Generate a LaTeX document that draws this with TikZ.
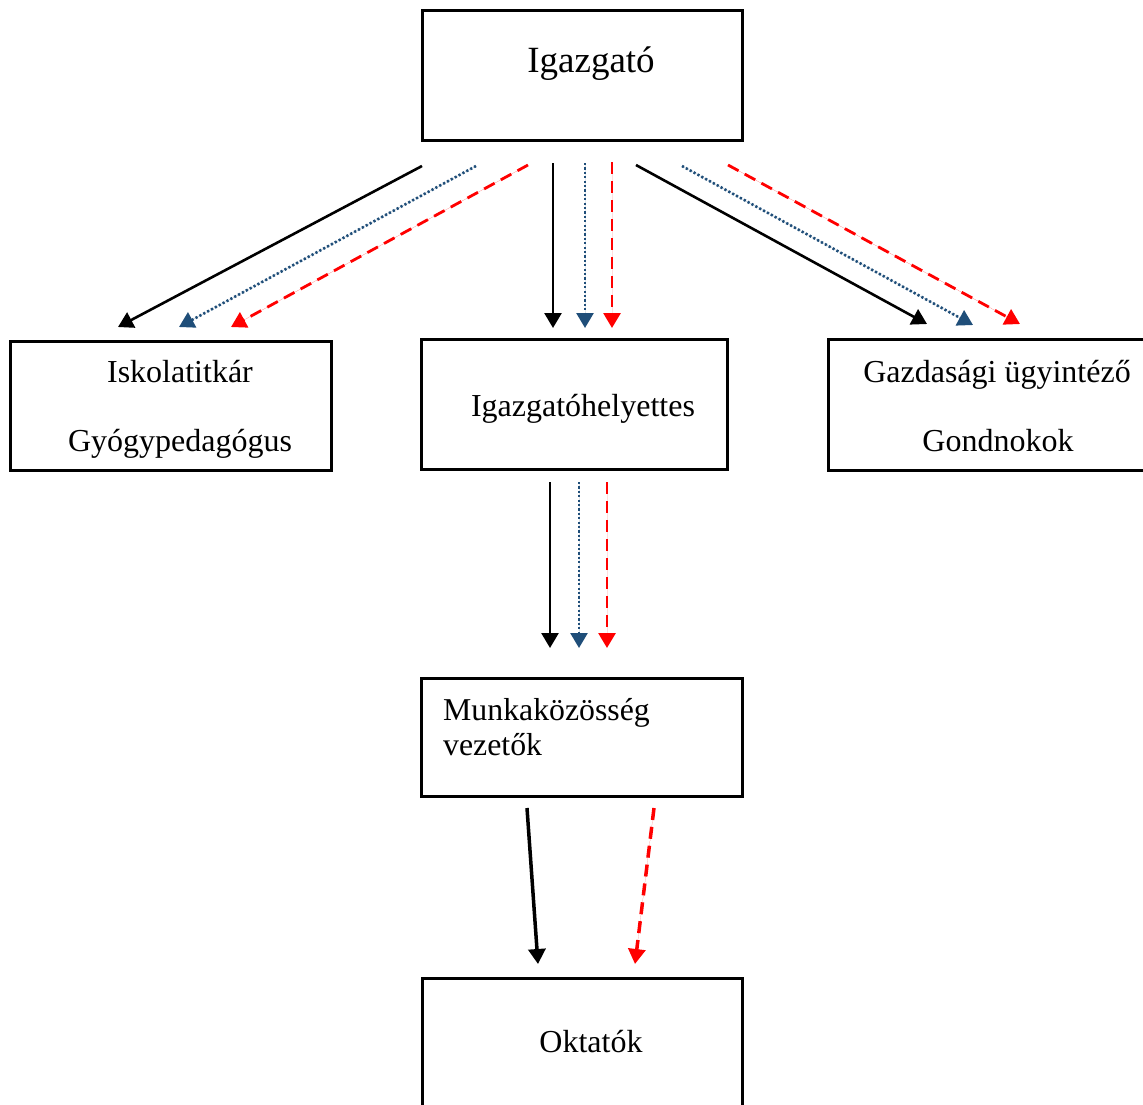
\documentclass[tikz,border=0pt]{standalone}
\usepackage{fontspec}
\setmainfont{Liberation Serif}
\usetikzlibrary{arrows.meta}
\definecolor{dotblue}{HTML}{1F4E79}
\definecolor{dred}{HTML}{FF0000}
\begin{document}
\begin{tikzpicture}[x=1pt,y=-1pt,
  box/.style={draw=black,line width=3pt,inner sep=0pt},
  lbl/.style={anchor=base,inner sep=0pt,font=\fontsize{32}{38}\selectfont},
  tipp/.style={-{Triangle[width=17pt,length=15pt]}},
  solidarr/.style={tipp,line width=2.6pt,draw=black,fill=black},
  dotarr/.style={tipp,line width=2.6pt,draw=dotblue,fill=dotblue,dash pattern=on 2.2pt off 2.2pt},
  dasharr/.style={tipp,line width=2.8pt,draw=dred,fill=dred,dash pattern=on 12pt off 7pt}]
\useasboundingbox (0,0) rectangle (1143,1104);
\clip (0,0) rectangle (1143,1104);
\fill[white] (0,0) rectangle (1143,1104);

% boxes
\node[box,minimum width=320pt,minimum height=130pt] (igb) at (582,75) {};
\node[box,minimum width=321pt,minimum height=129pt] (isb) at (170.5,405.5) {};
\node[box,minimum width=306pt,minimum height=130pt] (hb) at (574,404) {};
\node[box,minimum width=332pt,minimum height=131pt] (gb) at (994,404.5) {};
\node[box,minimum width=321pt,minimum height=118pt] (mb) at (581.5,737) {};
\node[box,minimum width=320pt,minimum height=152pt] (ob) at (582,1054) {};

% labels
\node[lbl,font=\fontsize{37}{42}\selectfont] (igt) at (591,72) {Igazgató};
\node[lbl] (ist1) at (180,382) {Iskolatitkár};
\node[lbl] (ist2) at (180,451) {Gyógypedagógus};
\node[lbl] (ht) at (583,416) {Igazgatóhelyettes};
\node[lbl] (gt1) at (997,382) {Gazdasági ügyintéző};
\node[lbl] (gt2) at (998,451) {Gondnokok};
\node[lbl,anchor=base west,font=\fontsize{31.8}{36}\selectfont] (mt1) at (443,720) {Munkaközösség};
\node[lbl,anchor=base west,font=\fontsize{31.8}{36}\selectfont] (mt2) at (443,755) {vezetők};
\node[lbl] (ot) at (591,1052) {Oktatók};

% connector end points
\coordinate (l1s) at (422,166); \coordinate (l1e) at (118,327);
\coordinate (l2s) at (476,166); \coordinate (l2e) at (179,327);
\coordinate (l3s) at (528,165); \coordinate (l3e) at (231,327);
\coordinate (c1s) at (553,163); \coordinate (c1e) at (553,328);
\coordinate (c2s) at (585,163); \coordinate (c2e) at (585,328);
\coordinate (c3s) at (612,162); \coordinate (c3e) at (612,328);
\coordinate (r1s) at (636,165); \coordinate (r1e) at (927,324);
\coordinate (r2s) at (682,166); \coordinate (r2e) at (973,325);
\coordinate (r3s) at (728,165); \coordinate (r3e) at (1020,324);
\coordinate (d1s) at (550,482); \coordinate (d1e) at (550,648);
\coordinate (d2s) at (579,482); \coordinate (d2e) at (579,648);
\coordinate (d3s) at (607,482); \coordinate (d3e) at (607,648);
\coordinate (e1s) at (527,808); \coordinate (e1e) at (538,964);
\coordinate (e3s) at (654,808); \coordinate (e3e) at (635,964);

\draw[solidarr] (l1s) -- (l1e);
\draw[dotarr] (l2s) -- (l2e);
\draw[dasharr] (l3s) -- (l3e);
\draw[solidarr] (c1s) -- (c1e);
\draw[dotarr] (c2s) -- (c2e);
\draw[dasharr] (c3s) -- (c3e);
\draw[solidarr] (r1s) -- (r1e);
\draw[dotarr] (r2s) -- (r2e);
\draw[dasharr] (r3s) -- (r3e);
\draw[solidarr] (d1s) -- (d1e);
\draw[dotarr] (d2s) -- (d2e);
\draw[dasharr] (d3s) -- (d3e);
\draw[solidarr,line width=3.5pt] (e1s) -- (e1e);
\draw[dasharr,line width=3.5pt] (e3s) -- (e3e);
\end{tikzpicture}
\end{document}
